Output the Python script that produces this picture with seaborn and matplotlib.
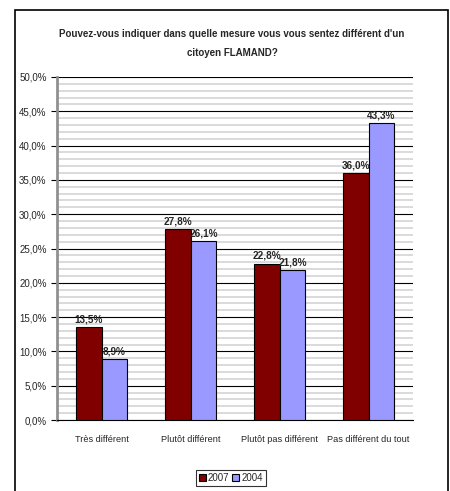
import matplotlib.pyplot as plt
import matplotlib.ticker as mticker
import matplotlib.patches as mpatches
import numpy as np
import pandas as pd
import seaborn as sns

categories = ["Très différent", "Plutôt différent", "Plutôt pas différent", "Pas différent du tout"]
years = ["2007", "2004"]
values_2007 = [13.5, 27.8, 22.8, 36.0]
values_2004 = [8.9, 26.1, 21.8, 43.3]
title = "Pouvez-vous indiquer dans quelle mesure vous vous sentez différent d'un\ncitoyen FLAMAND?"

df = pd.DataFrame({
    "categorie": categories * 2,
    "annee": [years[0]] * 4 + [years[1]] * 4,
    "pct": values_2007 + values_2004,
})

sns.set_style("white")
plt.rcParams["font.family"] = ["Liberation Sans", "DejaVu Sans"]

W, H = 450, 491
fig = plt.figure(figsize=(W / 100, H / 100), dpi=100)
ax = fig.add_axes([57 / W, 1 - 420 / H, (413 - 57) / W, (420 - 77) / H])

sns.barplot(data=df, x="categorie", y="pct", hue="annee", ax=ax,
            palette={"2007": "#800000", "2004": "#9999FF"},
            width=0.58, edgecolor="black", linewidth=0.8, saturation=1,
            zorder=3, legend=True)

ax.set_ylim(0, 50)
ax.set_xlim(-0.5, 3.5)
ax.yaxis.set_major_locator(mticker.MultipleLocator(5))
ax.yaxis.set_minor_locator(mticker.MultipleLocator(1))
ax.yaxis.set_major_formatter(mticker.FuncFormatter(lambda v, p: f"{v:.1f}%".replace(".", ",")))
ax.grid(which="minor", axis="y", color="#d4d4d4", linewidth=1.2, zorder=0)
ax.grid(which="major", axis="y", color="black", linewidth=0.8, zorder=1)
ax.set_axisbelow(True)

for side in ["top", "right"]:
    ax.spines[side].set_visible(False)
ax.spines["left"].set_color("#909090")
ax.spines["left"].set_linewidth(2)
ax.spines["bottom"].set_color("black")
ax.spines["bottom"].set_linewidth(0.8)

ax.set_xticks([0, 1, 2, 3])
ax.set_xticklabels(categories, fontsize=6.6)
ax.set_xticks([0.5, 1.5, 2.5], minor=True)
ax.tick_params(axis="x", which="major", length=0, pad=11)
ax.tick_params(axis="x", which="minor", length=4, direction="out", color="black", width=0.8)
ax.tick_params(axis="y", which="major", labelsize=7, length=4, direction="out", color="black", width=0.8, left=True)
ax.tick_params(axis="y", which="minor", length=0)
ax.set_xlabel("")
ax.set_ylabel("")

for cont in ax.containers:
    ax.bar_label(cont, labels=[f"{v:.1f}%".replace(".", ",") for v in cont.datavalues],
                 fontsize=7.2, fontweight="bold", padding=2)

fig.text(232 / W, 1 - 43.5 / H, title, ha="center", va="center", fontsize=7,
         fontweight="bold", linespacing=2.2)

handles, labels = ax.get_legend_handles_labels()
ax.get_legend().remove()
leg = fig.legend(handles, labels, loc="center", bbox_to_anchor=(231 / W, 1 - 478 / H),
                 ncol=2, fontsize=7, frameon=True, fancybox=False, edgecolor="black",
                 handlelength=0.7, handleheight=0.7, handletextpad=0.2, columnspacing=0.3,
                 borderpad=0.3, borderaxespad=0)
leg.get_frame().set_linewidth(0.8)

fig.patches.append(mpatches.Rectangle((15 / W, -0.05), (448 - 15) / W, 1 - 10 / H + 0.05,
                                      transform=fig.transFigure, fill=False,
                                      edgecolor="black", linewidth=1.2))

fig.savefig("out.png", dpi=100, facecolor="white")
